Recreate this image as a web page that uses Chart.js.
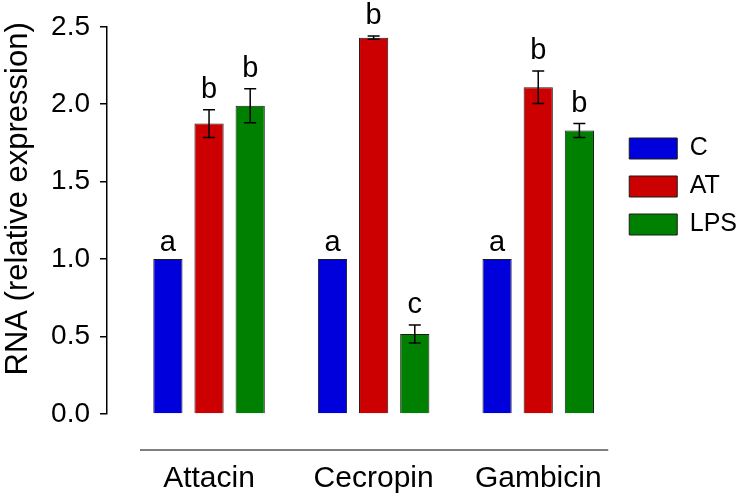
<!DOCTYPE html>
<html>
<head>
<meta charset="utf-8">
<script src="https://cdn.jsdelivr.net/npm/chart.js@4.4.0/dist/chart.umd.min.js"></script>
<style>
    html, body { margin: 0; padding: 0; background: #fff; }
    .wrap { width: 745px; height: 495px; position: relative; }
</style>
</head>
<body>
<div class="wrap"><canvas id="chart"></canvas></div>
<script>
// data
const categories = ['Attacin', 'Cecropin', 'Gambicin'];
const seriesNames = ['C', 'AT', 'LPS'];
const cValues = [1.0, 1.0, 1.0];
const atValues = [1.875, 2.43, 2.11];
const lpsValues = [1.99, 0.516, 1.83];
const cErrors = [0, 0, 0];
const atErrors = [0.09, 0.01, 0.105];
const lpsErrors = [0.11, 0.058, 0.045];
const cLetters = ['a', 'a', 'a'];
const atLetters = ['b', 'b', 'b'];
const lpsLetters = ['b', 'c', 'b'];
const yTicks = [0, 0.5, 1.0, 1.5, 2.0, 2.5];

const FONT = "'Liberation Sans', Arial, sans-serif";
const valueSets = [cValues, atValues, lpsValues];
const errorSets = [cErrors, atErrors, lpsErrors];
const letterSets = [cLetters, atLetters, lpsLetters];
const colors = ['#0000dd', '#cc0000', '#008000'];

// error bars + significance letters
const annotate = {
    id: 'annotate',
    afterDatasetsDraw(chart) {
        const ctx = chart.ctx;
        const y = chart.scales.y;
        const area = chart.chartArea;
        ctx.save();
        ctx.strokeStyle = '#000';
        ctx.fillStyle = '#000';
        ctx.lineWidth = 1.5;
        chart.data.datasets.forEach((ds, di) => {
            const meta = chart.getDatasetMeta(di);
            meta.data.forEach((bar, j) => {
                const v = valueSets[di][j];
                const e = errorSets[di][j];
                const top = y.getPixelForValue(v + e);
                if (e > 0) {
                    const bot = y.getPixelForValue(v - e);
                    ctx.beginPath();
                    ctx.moveTo(bar.x, top); ctx.lineTo(bar.x, bot);
                    ctx.moveTo(bar.x - 6, top); ctx.lineTo(bar.x + 6, top);
                    ctx.moveTo(bar.x - 6, bot); ctx.lineTo(bar.x + 6, bot);
                    ctx.stroke();
                }
                ctx.font = '29px ' + FONT;
                ctx.textAlign = 'center';
                ctx.textBaseline = 'alphabetic';
                ctx.fillText(letterSets[di][j], bar.x, top - (e > 0 ? 12 : 8));
            });
        });
        // separator line under the bars
        const lineY = area.bottom + 36;
        ctx.lineWidth = 1.2;
        ctx.beginPath();
        ctx.moveTo(area.left + 33, lineY);
        ctx.lineTo(area.right - 8, lineY);
        ctx.stroke();
        ctx.restore();
    }
};

new Chart(document.getElementById('chart'), {
    type: 'bar',
    data: {
        datasets: seriesNames.map((name, i) => ({
            label: name,
            data: valueSets[i].map((v, j) => ({ x: j, y: v })),
            backgroundColor: colors[i],
            borderColor: '#1a1a1a',
            borderWidth: 1,
            categoryPercentage: 0.75,
            barPercentage: 0.71
        }))
    },
    options: {
        responsive: true,
        maintainAspectRatio: false,
        animation: false,
        layout: { padding: { top: 25, right: -2, bottom: 0, left: 0 } },
        plugins: {
            tooltip: { enabled: false },
            legend: {
                position: 'right',
                align: 'start',
                title: { display: true, text: ' ', font: { size: 10 }, padding: { top: 86, bottom: 0 } },
                labels: {
                    boxWidth: 48,
                    boxHeight: 21,
                    padding: 13,
                    color: '#000',
                    font: { family: FONT, size: 25 }
                }
            }
        },
        scales: {
            x: {
                type: 'linear',
                offset: false,
                min: -0.62,
                max: 2.474,
                grid: { display: false, drawTicks: false, offset: false },
                border: { display: false },
                afterBuildTicks: (scale) => { scale.ticks = categories.map((_, i) => ({ value: i })); },
                afterFit: (scale) => { scale.height = 81; },
                ticks: {
                    autoSkip: false,
                    maxRotation: 0,
                    padding: 47,
                    color: '#000',
                    font: { family: FONT, size: 30 },
                    callback: (v) => categories[v]
                }
            },
            y: {
                min: 0,
                max: 2.5,
                afterBuildTicks: (scale) => { scale.ticks = yTicks.map(v => ({ value: v })); },
                afterFit: (scale) => { scale.width = 107; },
                grid: { display: true, drawOnChartArea: false, drawTicks: true, tickLength: 7, color: '#000', lineWidth: 1.5 },
                border: { display: true, color: '#000', width: 1.5 },
                title: {
                    display: true,
                    text: '     RNA (relative expression)',
                    color: '#000',
                    padding: { top: 0, bottom: 0 },
                    font: { family: FONT, size: 31 }
                },
                ticks: {
                    padding: 10,
                    color: '#000',
                    font: { family: FONT, size: 28 },
                    callback: (v) => v.toFixed(1)
                }
            }
        }
    },
    plugins: [annotate]
});
</script>
</body>
</html>
